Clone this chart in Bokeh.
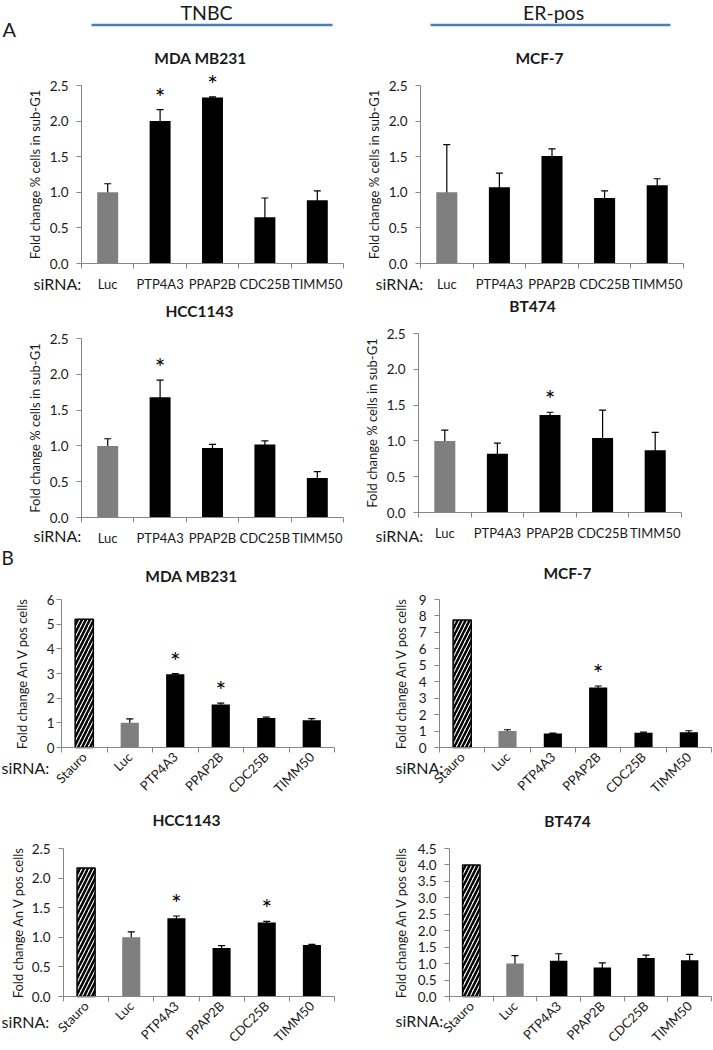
import math
from bokeh.plotting import figure
from bokeh.models import (Range1d, FixedTicker, PrintfTickFormatter, Label, LabelSet,
                          ColumnDataSource, Whisker, TeeHead)
from bokeh.layouts import column, row
from bokeh.embed import file_html
from bokeh.resources import INLINE
from bokeh.core.properties import value

# ---------------- data ----------------
subg1_categories = ["Luc", "PTP4A3", "PPAP2B", "CDC25B", "TIMM50"]
anv_categories = ["Stauro", "Luc", "PTP4A3", "PPAP2B", "CDC25B", "TIMM50"]

subg1_yticks = [0.0, 0.5, 1.0, 1.5, 2.0, 2.5]
mda_anv_yticks = [0, 1, 2, 3, 4, 5, 6]
mcf7_anv_yticks = [0, 1, 2, 3, 4, 5, 6, 7, 8, 9]
hcc_anv_yticks = [0.0, 0.5, 1.0, 1.5, 2.0, 2.5]
bt474_anv_yticks = [0.0, 0.5, 1.0, 1.5, 2.0, 2.5, 3.0, 3.5, 4.0, 4.5]

# Panel A: fold change % cells in sub-G1
mda_subg1 = [1.00, 2.00, 2.33, 0.65, 0.89]
mda_subg1_err = [0.12, 0.16, 0.01, 0.27, 0.13]
mda_subg1_sig = [False, True, True, False, False]

mcf7_subg1 = [1.00, 1.07, 1.51, 0.92, 1.10]
mcf7_subg1_err = [0.67, 0.20, 0.10, 0.10, 0.09]
mcf7_subg1_sig = [False, False, False, False, False]

hcc_subg1 = [1.00, 1.68, 0.97, 1.02, 0.55]
hcc_subg1_err = [0.10, 0.24, 0.05, 0.05, 0.09]
hcc_subg1_sig = [False, True, False, False, False]

bt474_subg1 = [1.00, 0.82, 1.36, 1.04, 0.87]
bt474_subg1_err = [0.15, 0.15, 0.04, 0.39, 0.25]
bt474_subg1_sig = [False, False, True, False, False]

# Panel B: fold change Annexin V positive cells
mda_anv = [5.20, 1.00, 2.97, 1.74, 1.20, 1.10]
mda_anv_err = [0.0, 0.16, 0.03, 0.06, 0.03, 0.07]
mda_anv_sig = [False, False, True, True, False, False]

mcf7_anv = [7.75, 1.00, 0.85, 3.65, 0.90, 0.92]
mcf7_anv_err = [0.0, 0.08, 0.03, 0.09, 0.04, 0.10]
mcf7_anv_sig = [False, False, False, True, False, False]

hcc_anv = [2.17, 1.00, 1.32, 0.82, 1.25, 0.87]
hcc_anv_err = [0.0, 0.09, 0.04, 0.04, 0.02, 0.01]
hcc_anv_sig = [False, False, True, False, True, False]

bt474_anv = [4.00, 1.00, 1.09, 0.88, 1.17, 1.10]
bt474_anv_err = [0.0, 0.24, 0.21, 0.14, 0.09, 0.18]
bt474_anv_sig = [False, False, False, False, False, False]

# ---------------- style ----------------
FONT = "Lato"
AXIS_GRAY = "#868686"
TEXT = "#1a1a1a"
LUC_GRAY = "#7f7f7f"
BLUE = "#4a7ebf"


def canvas_label(p, x, y, text, size, bold=False, align="center", baseline="middle"):
    lab = Label(x=x, y=y, x_units="canvas", y_units="canvas", text=text,
                text_font=FONT, text_font_size=size,
                text_font_style="bold" if bold else "normal",
                text_align=align, text_baseline=baseline, text_color=TEXT)
    p.add_layout(lab)


def panel(spec):
    fx, fy, W, H = spec["fig"]          # figure box on the page
    fl, ft, fr, fb = spec["frame"]      # axes box on the page
    cats, vals, errs, sig = spec["cats"], spec["vals"], spec["errs"], spec["sig"]
    n = len(cats)
    yt = spec["yticks"]
    ymin, ymax = yt[0], yt[-1]
    # the whole canvas is the frame; the axes are fixed inside it
    dx = n / (fr - fl)
    dy = (ymax - ymin) / (fb - ft)
    x_range = Range1d(0.5 - (fl - fx) * dx, n + 0.5 + (fx + W - fr) * dx)
    y_range = Range1d(ymin - (fy + H - fb) * dy, ymax + (ft - fy) * dy)
    p = figure(width=W, height=H, x_range=x_range, y_range=y_range,
               toolbar_location=None, output_backend="svg", min_border=0)
    p.title.visible = False
    p.outline_line_color = None
    p.grid.visible = False
    p.background_fill_color = "white"
    p.border_fill_color = "white"

    xs = list(range(1, n + 1))
    hx = [x for x, c in zip(xs, cats) if c == "Stauro"]
    hv = [v for v, c in zip(vals, cats) if c == "Stauro"]
    gx = [x for x, c in zip(xs, cats) if c == "Luc"]
    gv = [v for v, c in zip(vals, cats) if c == "Luc"]
    kx = [x for x, c in zip(xs, cats) if c not in ("Stauro", "Luc")]
    kv = [v for v, c in zip(vals, cats) if c not in ("Stauro", "Luc")]

    if hx:
        p.vbar(x=hx, top=hv, width=0.4, fill_color="white", line_color="black",
               line_width=1.5, hatch_pattern="/", hatch_color="black",
               hatch_weight=2.5, hatch_scale=8)
    p.vbar(x=gx, top=gv, width=0.4, fill_color=LUC_GRAY, line_color=None)
    p.vbar(x=kx, top=kv, width=0.4, fill_color="black", line_color=None)

    ex = [x for x, c, e in zip(xs, cats, errs) if c != "Stauro" and e > 0]
    lo = [v - e for v, c, e in zip(vals, cats, errs) if c != "Stauro" and e > 0]
    hi = [v + e for v, c, e in zip(vals, cats, errs) if c != "Stauro" and e > 0]
    esrc = ColumnDataSource(dict(x=ex, lower=lo, upper=hi))
    p.add_layout(Whisker(source=esrc, base="x", lower="lower", upper="upper",
                         line_color="black", line_width=1.2,
                         upper_head=TeeHead(size=7, line_color="black", line_width=1.2),
                         lower_head=TeeHead(size=7, line_color="black", line_width=1.2)))

    sx = [x for x, s in zip(xs, sig) if s]
    sy = [v + e for v, e, s in zip(vals, errs, sig) if s]
    ssrc = ColumnDataSource(dict(x=sx, y=sy, t=["*"] * len(sx)))
    p.add_layout(LabelSet(source=ssrc, x="x", y="y", text="t", text_align="center",
                          text_baseline="alphabetic", y_offset=3,
                          text_font=value(FONT), text_font_size=value("25px"),
                          text_color="#000000"))

    # y axis (fixed at the left edge of the bar area)
    ya = p.yaxis[0]
    ya.fixed_location = 0.5
    ya.bounds = (ymin, ymax)
    ya.ticker = FixedTicker(ticks=yt)
    ya.formatter = PrintfTickFormatter(format=spec["yfmt"])
    ya.axis_label = spec["ylabel"]
    ya.axis_label_text_font = FONT
    ya.axis_label_text_font_style = "normal"
    ya.axis_label_text_font_size = spec["ylabel_size"]
    ya.axis_label_text_color = TEXT
    ya.axis_label_standoff = spec["ylabel_standoff"]
    ya.major_label_text_font = FONT
    ya.major_label_text_font_size = "13.5px"
    ya.major_label_text_color = TEXT
    ya.major_label_standoff = spec["ytick_standoff"]
    ya.axis_line_color = AXIS_GRAY
    ya.major_tick_line_color = AXIS_GRAY
    ya.major_tick_out = 5
    ya.major_tick_in = 0
    ya.minor_tick_line_color = None

    # x axis (fixed at y = 0)
    xa = p.xaxis[0]
    xa.fixed_location = ymin
    xa.bounds = (0.5, n + 0.5)
    xa.ticker = FixedTicker(ticks=xs, minor_ticks=[i + 0.5 for i in range(0, n + 1)])
    xa.major_label_overrides = {i + 1: c for i, c in enumerate(cats)}
    xa.major_label_text_font = FONT
    xa.major_label_text_font_size = "13px"
    xa.major_label_text_color = TEXT
    xa.axis_line_color = AXIS_GRAY
    xa.major_tick_line_color = None
    xa.major_tick_out = 0
    xa.major_tick_in = 0
    xa.minor_tick_line_color = AXIS_GRAY
    xa.minor_tick_out = 5
    xa.minor_tick_in = 0
    if spec["rotated"]:
        xa.major_label_orientation = math.pi / 4
        xa.major_label_standoff = 2
    else:
        xa.major_label_standoff = 7

    tx, ty = spec["title_xy"]
    canvas_label(p, tx - fx, ty - fy, spec["title"], "15.5px", bold=True)
    rx, ry = spec["sirna_xy"]
    canvas_label(p, rx - fx, ry - fy, "siRNA:", "16px", align="left")
    if "letter" in spec:
        lx, ly = spec["letter_xy"]
        canvas_label(p, lx - fx, ly - fy, spec["letter"], "19px", align="left")
    return p


YL_A = "Fold change % cells in sub-G1"
YL_B = "Fold change An V pos cells"

specs = [
    dict(fig=(0, 44, 360, 250), frame=(81, 85, 343, 263), title="MDA MB231", title_xy=(200, 57),
         sirna_xy=(33, 282.5), cats=subg1_categories, vals=mda_subg1, errs=mda_subg1_err,
         sig=mda_subg1_sig, yticks=subg1_yticks, yfmt="%.1f", ylabel=YL_A, ylabel_size="13px",
         ylabel_standoff=4, ytick_standoff=8, rotated=False),
    dict(fig=(360, 44, 353, 250), frame=(420, 85, 683, 263), title="MCF-7", title_xy=(539, 57),
         sirna_xy=(375, 282.5), cats=subg1_categories, vals=mcf7_subg1, errs=mcf7_subg1_err,
         sig=mcf7_subg1_sig, yticks=subg1_yticks, yfmt="%.1f", ylabel=YL_A, ylabel_size="13px",
         ylabel_standoff=4, ytick_standoff=8, rotated=False),
    dict(fig=(0, 294, 360, 251), frame=(81, 338, 343, 517), title="HCC1143", title_xy=(199, 310),
         sirna_xy=(33, 535), cats=subg1_categories, vals=hcc_subg1, errs=hcc_subg1_err,
         sig=hcc_subg1_sig, yticks=subg1_yticks, yfmt="%.1f", ylabel=YL_A, ylabel_size="13px",
         ylabel_standoff=4, ytick_standoff=8, rotated=False),
    dict(fig=(360, 294, 353, 251), frame=(418, 333, 681, 512), title="BT474", title_xy=(532, 305),
         sirna_xy=(375, 535), cats=subg1_categories, vals=bt474_subg1, errs=bt474_subg1_err,
         sig=bt474_subg1_sig, yticks=subg1_yticks, yfmt="%.1f", ylabel=YL_A, ylabel_size="13px",
         ylabel_standoff=4, ytick_standoff=8, rotated=False),
    dict(fig=(0, 545, 360, 261), frame=(61, 599, 334, 747), title="MDA MB231", title_xy=(191, 575),
         sirna_xy=(1, 767), cats=anv_categories, vals=mda_anv, errs=mda_anv_err,
         sig=mda_anv_sig, yticks=mda_anv_yticks, yfmt="%d", ylabel=YL_B, ylabel_size="13px",
         ylabel_standoff=14, ytick_standoff=2, rotated=True, letter="B", letter_xy=(1, 557)),
    dict(fig=(360, 545, 353, 261), frame=(439, 599, 711, 747), title="MCF-7", title_xy=(567, 572),
         sirna_xy=(395, 767), cats=anv_categories, vals=mcf7_anv, errs=mcf7_anv_err,
         sig=mcf7_anv_sig, yticks=mcf7_anv_yticks, yfmt="%d", ylabel=YL_B, ylabel_size="13px",
         ylabel_standoff=7, ytick_standoff=8, rotated=True),
    dict(fig=(0, 806, 360, 244), frame=(63, 848, 334, 996), title="HCC1143", title_xy=(186, 819),
         sirna_xy=(1, 1021), cats=anv_categories, vals=hcc_anv, errs=hcc_anv_err,
         sig=hcc_anv_sig, yticks=hcc_anv_yticks, yfmt="%.1f", ylabel=YL_B, ylabel_size="13px",
         ylabel_standoff=3, ytick_standoff=8, rotated=True),
    dict(fig=(360, 806, 353, 244), frame=(449, 848, 711, 996), title="BT474", title_xy=(567, 820),
         sirna_xy=(395, 1020), cats=anv_categories, vals=bt474_anv, errs=bt474_anv_err,
         sig=bt474_anv_sig, yticks=bt474_anv_yticks, yfmt="%.1f", ylabel=YL_B, ylabel_size="13px",
         ylabel_standoff=6, ytick_standoff=8, rotated=True),
]

panels = [panel(s) for s in specs]

# ---------------- header ----------------
# header figure whose data coordinates equal canvas pixels (y measured downward)
HH = 44
header = figure(width=713, height=HH, x_range=Range1d(0, 713), y_range=Range1d(HH, 0),
                toolbar_location=None, output_backend="svg", min_border=0,
                x_axis_type=None, y_axis_type=None)
header.title.visible = False
header.outline_line_color = None
header.grid.visible = False
header.text(x=[2], y=[28], text=["A"], text_font=value(FONT), text_font_size="20px",
            text_align="left", text_baseline="middle", text_color=TEXT)
header.text(x=[206, 553], y=[23.5, 23.5], text=["TNBC", "ER-pos"], text_font=value(FONT),
            text_font_size="19.5px", text_align="center", text_baseline="bottom",
            text_color=TEXT)
header.segment(x0=[91, 430], y0=[24.5, 24.5], x1=[332, 670], y1=[24.5, 24.5],
               line_color=BLUE, line_width=2.5)

layout = column(header,
                row(panels[0], panels[1]),
                row(panels[2], panels[3]),
                row(panels[4], panels[5]),
                row(panels[6], panels[7]))

open("out.html", "w").write(file_html(layout, INLINE))
